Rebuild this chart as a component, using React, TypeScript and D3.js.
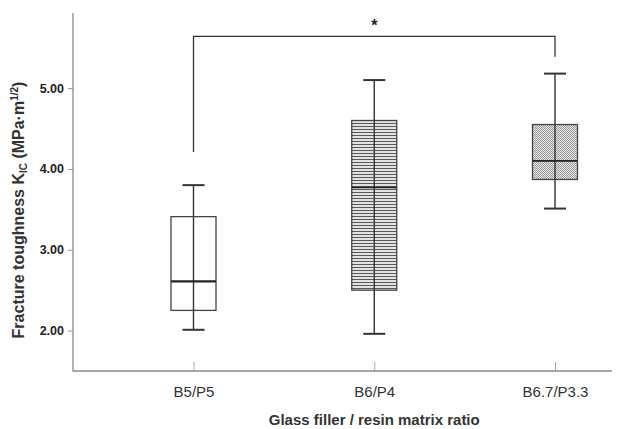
import { useEffect, useRef } from "react";
import * as d3 from "d3";

const categories = ["B5/P5", "B6/P4", "B6.7/P3.3"];
const mins = [2.01, 1.96, 3.51];
const q1s = [2.25, 2.5, 3.87];
const medians = [2.61, 3.77, 4.1];
const q3s = [3.41, 4.6, 4.55];
const maxs = [3.8, 5.1, 5.18];
const fills = ["#ffffff", "url(#hlines)", "url(#dots)"];
const yTicks = [2, 3, 4, 5];
// significance bracket between first and last group
const bracketTop = 5.64;
const bracketEnds = [4.21, 5.39];

export default function App() {
  const svgRef = useRef<SVGSVGElement>(null);
  const width = 623;
  const height = 429;

  useEffect(() => {
    const svg = d3.select(svgRef.current);
    svg.selectAll("*").remove();

    const axisX = 73;
    const axisY = 371;
    const font = "Liberation Sans, Arial, sans-serif";

    const y = d3.scaleLinear().domain([1.5, 5.93]).range([axisY, 13]);
    const x = d3.scalePoint<string>().domain(categories).range([193.5, 555]);

    // patterns
    const defs = svg.append("defs");
    const hl = defs
      .append("pattern")
      .attr("id", "hlines")
      .attr("patternUnits", "userSpaceOnUse")
      .attr("width", 4)
      .attr("height", 3);
    hl.append("rect").attr("width", 4).attr("height", 3).attr("fill", "#e2e2e2");
    hl.append("rect").attr("width", 4).attr("height", 1).attr("fill", "#5a5a5a");

    const dp = defs
      .append("pattern")
      .attr("id", "dots")
      .attr("patternUnits", "userSpaceOnUse")
      .attr("width", 2)
      .attr("height", 2);
    dp.append("rect").attr("width", 2).attr("height", 2).attr("fill", "#e6e6e6");
    dp.append("rect").attr("width", 1).attr("height", 1).attr("fill", "#9a9a9a");
    dp.append("rect").attr("x", 1).attr("y", 1).attr("width", 1).attr("height", 1).attr("fill", "#9a9a9a");

    // y axis
    const yAxis = svg
      .append("g")
      .attr("transform", `translate(${axisX},0)`)
      .call(
        d3
          .axisLeft(y)
          .tickValues(yTicks)
          .tickFormat(d3.format(".2f"))
          .tickSize(5)
          .tickSizeOuter(0)
          .tickPadding(4)
      );
    yAxis.select(".domain").remove();
    yAxis.selectAll(".tick line").attr("stroke", "#999");
    yAxis
      .selectAll(".tick text")
      .attr("fill", "#222")
      .style("font-family", font)
      .style("font-size", "12.5px")
      .style("font-weight", "bold");

    // x axis
    const xAxis = svg
      .append("g")
      .attr("transform", `translate(0,${axisY})`)
      .call(d3.axisBottom(x).tickSize(-9).tickSizeOuter(0).tickPadding(15));
    xAxis.select(".domain").remove();
    xAxis.selectAll(".tick line").attr("stroke", "#aaa");
    xAxis
      .selectAll(".tick text")
      .attr("fill", "#333")
      .style("font-family", font)
      .style("font-size", "15px");

    // axis lines
    svg
      .append("path")
      .attr("d", `M${axisX},13V${axisY}H612`)
      .attr("fill", "none")
      .attr("stroke", "#8a8a8a")
      .attr("stroke-width", 1.3);

    // boxes
    const boxW = 45;
    const capW = 22;
    const g = svg
      .selectAll(".box")
      .data(categories)
      .enter()
      .append("g")
      .attr("class", "box");

    g.append("line")
      .attr("x1", (d) => x(d)!)
      .attr("x2", (d) => x(d)!)
      .attr("y1", (d, i) => y(maxs[i]))
      .attr("y2", (d, i) => y(mins[i]))
      .attr("stroke", "#333")
      .attr("stroke-width", 1.4);

    g.append("rect")
      .attr("x", (d) => x(d)! - boxW / 2)
      .attr("width", boxW)
      .attr("y", (d, i) => y(q3s[i]))
      .attr("height", (d, i) => y(q1s[i]) - y(q3s[i]))
      .attr("fill", (d, i) => fills[i])
      .attr("stroke", "#444")
      .attr("stroke-width", 1.3);

    g.append("line")
      .attr("x1", (d) => x(d)!)
      .attr("x2", (d) => x(d)!)
      .attr("y1", (d, i) => y(q3s[i]))
      .attr("y2", (d, i) => y(q1s[i]))
      .attr("stroke", "#333")
      .attr("stroke-width", 1.4);

    g.append("line")
      .attr("x1", (d) => x(d)! - boxW / 2)
      .attr("x2", (d) => x(d)! + boxW / 2)
      .attr("y1", (d, i) => y(medians[i]))
      .attr("y2", (d, i) => y(medians[i]))
      .attr("stroke", "#222")
      .attr("stroke-width", (d, i) => (i === 0 ? 2.2 : 1.6));

    [maxs, mins].forEach((arr) => {
      g.append("line")
        .attr("x1", (d) => x(d)! - capW / 2)
        .attr("x2", (d) => x(d)! + capW / 2)
        .attr("y1", (d, i) => y(arr[i]))
        .attr("y2", (d, i) => y(arr[i]))
        .attr("stroke", "#333")
        .attr("stroke-width", 2);
    });

    // significance bracket
    const bx1 = x(categories[0])!;
    const bx2 = x(categories[2])!;
    svg
      .append("path")
      .attr(
        "d",
        `M${bx1},${y(bracketEnds[0])}V${y(bracketTop)}H${bx2}V${y(bracketEnds[1])}`
      )
      .attr("fill", "none")
      .attr("stroke", "#333")
      .attr("stroke-width", 1.3);
    svg
      .append("text")
      .attr("x", (bx1 + bx2) / 2)
      .attr("y", y(bracketTop) - 5)
      .attr("text-anchor", "middle")
      .style("font-family", font)
      .style("font-size", "16px")
      .style("font-weight", "bold")
      .attr("fill", "#222")
      .text("*");

    // axis titles
    svg
      .append("text")
      .attr("x", (x(categories[0])! + x(categories[2])!) / 2)
      .attr("y", 425)
      .attr("text-anchor", "middle")
      .style("font-family", font)
      .style("font-size", "15px")
      .style("font-weight", "bold")
      .attr("fill", "#333")
      .text("Glass filler / resin matrix ratio");

    const yt = svg
      .append("text")
      .attr("transform", `translate(24,${210}) rotate(-90)`)
      .attr("text-anchor", "middle")
      .style("font-family", font)
      .style("font-size", "16px")
      .style("font-weight", "bold")
      .attr("fill", "#333");
    yt.append("tspan").text("Fracture toughness K");
    yt.append("tspan").attr("dy", 3).style("font-size", "10px").text("IC");
    yt.append("tspan").attr("dy", -3).text(" (MPa·m");
    yt.append("tspan").attr("dy", -6).style("font-size", "10px").text("1/2");
    yt.append("tspan").attr("dy", 6).text(")");
  }, []);

  return (
    <svg
      ref={svgRef}
      width={width}
      height={height}
      style={{ position: "absolute", left: 0, top: 0, background: "#fff" }}
    ></svg>
  );
}
